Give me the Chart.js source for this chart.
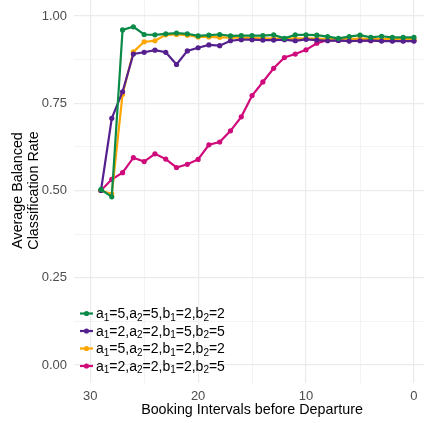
<!DOCTYPE html>
<html>
<head>
<meta charset="utf-8">
<script src="https://cdn.jsdelivr.net/npm/chart.js@4.4.1/dist/chart.umd.min.js"></script>
<style>
  html, body { margin: 0; padding: 0; background: #ffffff; overflow: hidden; }
  #wrap { width: 424px; height: 423px; position: relative; }
  canvas { display: block; }
</style>
</head>
<body>
<div id="wrap"><canvas id="c" width="424" height="423" style="width:424px;height:423px"></canvas></div>
<script>
// Booking intervals (days before departure), 29 down to 0
const intervals = [29,28,27,26,25,24,23,22,21,20,19,18,17,16,15,14,13,12,11,10,9,8,7,6,5,4,3,2,1,0];

// Average balanced classification rate for each parameter setting
const rateA5A5B2B2 = [0.503,0.482,0.960,0.969,0.947,0.946,0.949,0.951,0.949,0.943,0.945,0.947,0.943,0.944,0.944,0.944,0.946,0.936,0.946,0.946,0.945,0.941,0.936,0.941,0.945,0.939,0.942,0.939,0.939,0.939];
const rateA2A2B5B5 = [0.500,0.707,0.783,0.891,0.896,0.902,0.896,0.861,0.900,0.909,0.917,0.915,0.929,0.932,0.932,0.931,0.931,0.932,0.929,0.933,0.931,0.929,0.930,0.928,0.929,0.930,0.928,0.928,0.928,0.928];
const rateA5A2B2B2 = [0.500,0.490,0.776,0.897,0.926,0.929,0.946,0.947,0.945,0.940,0.940,0.939,0.938,0.938,0.937,0.936,0.935,0.935,0.935,0.936,0.935,0.934,0.934,0.934,0.935,0.934,0.934,0.934,0.934,0.934];
const rateA2A2B2B5 = [0.500,0.532,0.551,0.594,0.583,0.605,0.590,0.566,0.575,0.589,0.631,0.639,0.671,0.711,0.772,0.811,0.850,0.881,0.891,0.903,0.922,0.931,0.930,0.929,0.930,0.929,0.930,0.929,0.929,0.929];

// Legend labels as [base, subscript] pieces: a1=5,a2=5,b1=2,b2=2 etc.
const legendParams = [
  [['a','1'],['=5,a','2'],['=5,b','1'],['=2,b','2'],['=2','']],
  [['a','1'],['=2,a','2'],['=2,b','1'],['=5,b','2'],['=5','']],
  [['a','1'],['=5,a','2'],['=2,b','1'],['=2,b','2'],['=2','']],
  [['a','1'],['=2,a','2'],['=2,b','1'],['=2,b','2'],['=5','']]
];
const seriesNames = ['a1=5,a2=5,b1=2,b2=2','a1=2,a2=2,b1=5,b2=5','a1=5,a2=2,b1=2,b2=2','a1=2,a2=2,b1=2,b2=5'];
const seriesColors = ['#0B8A48','#55208E','#FFA500','#CF0B7B'];

const xTicks = [0,5,10,15,20,25,30];
const yTicks = [0,0.125,0.25,0.375,0.5,0.625,0.75,0.875,1];

const FONT = '"Liberation Sans", Arial, Helvetica, sans-serif';

function toPoints(vals) {
  return intervals.map((x, i) => ({ x: x, y: vals[i] }));
}

const seriesValues = [rateA5A5B2B2, rateA2A2B5B5, rateA5A2B2B2, rateA2A2B2B5];

const datasets = seriesValues.map((vals, i) => ({
  label: seriesNames[i],
  data: toPoints(vals),
  borderColor: seriesColors[i],
  backgroundColor: seriesColors[i],
  pointBackgroundColor: seriesColors[i],
  pointBorderWidth: 0,
  pointRadius: 2.6,
  borderWidth: 2.2,
  tension: 0,
  fill: false
}));

const isMajorY = v => Math.abs(v * 4 - Math.round(v * 4)) < 1e-6;

// Axis titles and the in-panel legend
const decorations = {
  id: 'decorations',
  afterDraw(chart) {
    const ctx = chart.ctx;
    ctx.save();
    ctx.fillStyle = '#000000';
    ctx.textAlign = 'center';
    ctx.textBaseline = 'middle';
    ctx.font = '14.3px ' + FONT;
    ctx.fillText('Booking Intervals before Departure', 252, 410);

    ctx.save();
    ctx.translate(18, 190.5);
    ctx.rotate(-Math.PI / 2);
    ctx.fillText('Average Balanced', 0, 0);
    ctx.restore();
    ctx.save();
    ctx.translate(34, 190.5);
    ctx.rotate(-Math.PI / 2);
    ctx.fillText('Classification Rate', 0, 0);
    ctx.restore();

    // legend rows
    const rowY = [313.5, 331, 348.5, 366];
    legendParams.forEach((pieces, i) => {
      const y = rowY[i];
      const col = seriesColors[i];
      ctx.strokeStyle = col;
      ctx.lineWidth = 2.2;
      ctx.beginPath();
      ctx.moveTo(80, y);
      ctx.lineTo(93, y);
      ctx.stroke();
      ctx.fillStyle = col;
      ctx.beginPath();
      ctx.arc(86.5, y, 2.6, 0, Math.PI * 2);
      ctx.fill();

      ctx.fillStyle = '#000000';
      ctx.textAlign = 'left';
      ctx.textBaseline = 'alphabetic';
      let x = 96;
      pieces.forEach(([base, sub]) => {
        ctx.font = '14px ' + FONT;
        ctx.fillText(base, x, y + 4.5);
        x += ctx.measureText(base).width;
        if (sub) {
          ctx.font = '10px ' + FONT;
          ctx.fillText(sub, x, y + 7);
          x += ctx.measureText(sub).width;
        }
      });
    });
    ctx.restore();
  }
};

new Chart(document.getElementById('c'), {
  type: 'line',
  data: { datasets: datasets },
  options: {
    responsive: false,
    animation: false,
    layout: { padding: 0, autoPadding: false },
    plugins: {
      legend: { display: false },
      tooltip: { enabled: false }
    },
    scales: {
      x: {
        type: 'linear',
        reverse: true,
        min: -0.93,
        max: 31.5,
        afterBuildTicks: s => { s.ticks = xTicks.map(v => ({ value: v })); },
        afterFit: s => { s.height = 40.5; s.paddingLeft = 0; s.paddingRight = 0; },
        border: { display: false },
        grid: {
          drawTicks: false,
          color: c => (c.tick && c.tick.value % 10 === 0) ? '#EBEBEB' : '#F2F2F2',
          lineWidth: c => (c.tick && c.tick.value % 10 === 0) ? 1.2 : 0.9
        },
        ticks: {
          autoSkip: false,
          maxRotation: 0,
          padding: 6,
          color: '#4D4D4D',
          font: { family: FONT, size: 13 },
          callback: v => (v % 10 === 0 ? String(v) : '')
        }
      },
      y: {
        type: 'linear',
        min: -0.05,
        max: 1.0458,
        afterBuildTicks: s => { s.ticks = yTicks.map(v => ({ value: v })); },
        afterFit: s => { s.width = 74; s.paddingTop = 0; s.paddingBottom = 0; },
        border: { display: false },
        grid: {
          drawTicks: false,
          color: c => (c.tick && isMajorY(c.tick.value)) ? '#EBEBEB' : '#F2F2F2',
          lineWidth: c => (c.tick && isMajorY(c.tick.value)) ? 1.2 : 0.9
        },
        ticks: {
          autoSkip: false,
          padding: 7,
          color: '#4D4D4D',
          font: { family: FONT, size: 13 },
          callback: v => (isMajorY(v) ? v.toFixed(2) : '')
        }
      }
    }
  },
  plugins: [decorations]
});
</script>
</body>
</html>
